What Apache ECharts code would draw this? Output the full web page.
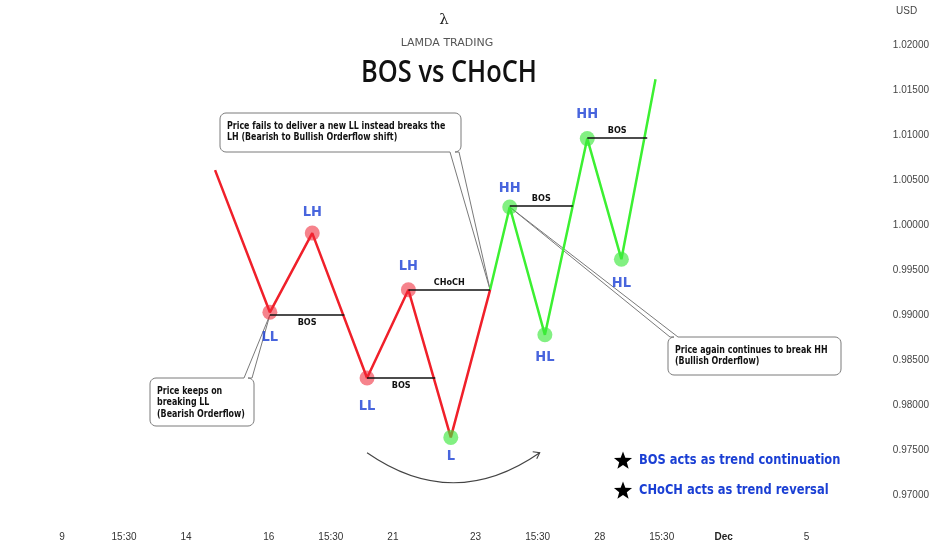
<!DOCTYPE html>
<html>
<head>
<meta charset="utf-8">
<script src="https://cdn.jsdelivr.net/npm/echarts@6/dist/echarts.min.js"></script>
<style>
html,body{margin:0;padding:0;background:#fff;}
#chart{width:932px;height:550px;}
</style>
</head>
<body>
<div id="chart"></div>
<script>
// ---- data ----
const timeTickValues = [6, 12, 18, 26, 32, 38, 46, 52, 58, 64, 70, 78];
const timeTickLabels = ['9', '15:30', '14', '16', '15:30', '21', '23', '15:30', '28', '15:30', 'Dec', '5'];
const priceTicks = [0.97, 0.975, 0.98, 0.985, 0.99, 0.995, 1.0, 1.005, 1.01, 1.015, 1.02];

const bearX = [20.8, 26.1, 30.2, 35.5, 39.5, 43.6, 47.4];
const bearY = [1.0061, 0.9903, 0.9991, 0.9830, 0.9928, 0.9764, 0.9928];
const bullX = [47.4, 49.3, 52.7, 56.8, 60.1, 63.4];
const bullY = [0.9928, 1.0020, 0.9878, 1.0096, 0.9962, 1.0162];

const pivotNames = ['LL', 'LH', 'LL', 'LH', 'L', 'HH', 'HL', 'HH', 'HL'];
const pivotX = [26.1, 30.2, 35.5, 39.5, 43.6, 49.3, 52.7, 56.8, 60.1];
const pivotY = [0.9903, 0.9991, 0.9830, 0.9928, 0.9764, 1.0020, 0.9878, 1.0096, 0.9962];
const pivotTrend = ['bear', 'bear', 'bear', 'bear', 'bull', 'bull', 'bull', 'bull', 'bull'];

const breakNames = ['BOS', 'BOS', 'CHoCH', 'BOS', 'BOS'];
const breakStartX = [26.1, 35.5, 39.5, 49.3, 56.8];
const breakEndX = [33.3, 42.1, 47.4, 55.4, 62.6];
const breakY = [0.9900, 0.9830, 0.9928, 1.0021, 1.0097];

const noteTexts = [
  'Price fails to deliver a new LL instead breaks the\nLH (Bearish to Bullish Orderflow shift)',
  'Price keeps on\nbreaking LL\n(Bearish Orderflow)',
  'Price again continues to break HH\n(Bullish Orderflow)'
];
const noteTipX = [47.4, 26.1, 49.3];
const noteTipY = [0.9928, 0.9900, 1.0020];

const legendTexts = ['BOS acts as trend continuation', 'CHoCH acts as trend reversal'];
const arcX = [35.5, 52.2];
const arcY = [0.9747, 0.9747];

// ---- layout / style ----
const BLUE = '#1a3fd4';
const RED = '#f0202a';
const GREEN = '#3cf032';
const labelFont = '"DejaVu Sans Condensed", "DejaVu Sans", sans-serif';
const pivotLabelLayout = [
  ['bottom', 10], ['top', 6], ['bottom', 13], ['top', 9], ['bottom', 4],
  ['top', 4], ['bottom', 7], ['top', 9], ['bottom', 9]
];
const breakLabelPos = ['insideMiddleBottom', 'insideMiddleBottom', 'insideMiddleTop', 'insideMiddleTop', 'insideMiddleTop'];
// callout boxes: [x, y, w, h, edge, a1, a2]
const noteBoxes = [
  [220, 113, 241, 39, 'bottom', 450, 459],
  [150, 378, 104, 48, 'top', 244, 252],
  [668, 337, 173, 38, 'top', 670, 678]
];

const chart = echarts.init(document.getElementById('chart'), null, {renderer: 'canvas'});

const pivotData = pivotNames.map((n, i) => ({
  value: [pivotX[i], pivotY[i]],
  name: n,
  itemStyle: {color: pivotTrend[i] === 'bear' ? 'rgba(240,40,55,0.72)' : 'rgba(60,232,60,0.8)'},
  label: {position: pivotLabelLayout[i][0], distance: pivotLabelLayout[i][1]}
}));

const markLineData = breakNames.map((n, i) => ([
  {coord: [breakStartX[i], breakY[i]], name: n, label: {position: breakLabelPos[i]}},
  {coord: [breakEndX[i], breakY[i]]}
]));

const option = {
  animation: false,
  backgroundColor: '#ffffff',
  grid: {left: 0, right: 50, top: 0, bottom: 25, containLabel: false},
  xAxis: {
    type: 'value', min: 0, max: 85,
    axisLine: {show: false}, axisTick: {show: false}, splitLine: {show: false},
    axisLabel: {
      customValues: timeTickValues,
      margin: 7,
      fontSize: 10, color: '#333', fontFamily: '"Liberation Sans", Arial, sans-serif',
      formatter: function (v) {
        const i = timeTickValues.indexOf(Math.round(v));
        const t = i >= 0 ? timeTickLabels[i] : '';
        return t === 'Dec' ? '{b|Dec}' : t;
      },
      rich: {b: {fontWeight: 'bold', fontSize: 10, color: '#222', fontFamily: '"Liberation Sans", Arial, sans-serif'}}
    }
  },
  yAxis: {
    type: 'value', position: 'right', min: 0.96667, max: 1.025, scale: true,
    axisLine: {show: false}, axisTick: {show: false}, splitLine: {show: false},
    axisLabel: {
      customValues: priceTicks,
      margin: 14,
      fontSize: 10, color: '#444', fontFamily: '"Liberation Sans", Arial, sans-serif',
      formatter: v => v.toFixed(5)
    }
  },
  series: [
    {
      type: 'line', name: 'bear', z: 3,
      data: bearX.map((x, i) => [x, bearY[i]]),
      symbol: 'none', lineStyle: {color: RED, width: 2.5},
      markLine: {
        silent: true, symbol: ['none', 'none'], animation: false,
        lineStyle: {color: '#111', width: 1.6, type: 'solid'},
        label: {
          show: true, formatter: '{b}', distance: 3,
          fontSize: 9, fontWeight: 'bold', color: '#111', fontFamily: labelFont
        },
        data: markLineData
      }
    },
    {
      type: 'line', name: 'bull', z: 3,
      data: bullX.map((x, i) => [x, bullY[i]]),
      symbol: 'none', lineStyle: {color: GREEN, width: 2.5}
    },
    {
      type: 'scatter', name: 'pivots', z: 4,
      symbolSize: 15,
      data: pivotData,
      label: {
        show: true, formatter: '{b}',
        fontSize: 14.5, fontWeight: 'bold', color: BLUE, fontFamily: labelFont
      }
    }
  ]
};

chart.setOption(option);

function arcPts(cx, cy, r, a0, a1) {
  const pts = [];
  for (let k = 0; k <= 5; k++) {
    const a = a0 + (a1 - a0) * k / 5;
    pts.push([cx + r * Math.cos(a), cy + r * Math.sin(a)]);
  }
  return pts;
}

function calloutPoints(b, tip) {
  const [x, y, w, h, edge, a1, a2] = b;
  const r = 6, P = Math.PI;
  let pts = [];
  pts = pts.concat(arcPts(x + r, y + r, r, P, 1.5 * P));
  if (edge === 'top') pts.push([a1, y], [tip[0], tip[1]], [a2, y]);
  pts = pts.concat(arcPts(x + w - r, y + r, r, 1.5 * P, 2 * P));
  pts = pts.concat(arcPts(x + w - r, y + h - r, r, 0, 0.5 * P));
  if (edge === 'bottom') pts.push([a2, y + h], [tip[0], tip[1]], [a1, y + h]);
  pts = pts.concat(arcPts(x + r, y + h - r, r, 0.5 * P, P));
  return pts;
}

function starPoints(cx, cy, R, r) {
  const pts = [];
  for (let k = 0; k < 10; k++) {
    const ang = -Math.PI / 2 + k * Math.PI / 5;
    const rad = k % 2 === 0 ? R : r;
    pts.push([cx + rad * Math.cos(ang), cy + rad * Math.sin(ang)]);
  }
  return pts;
}

const graphics = [];
// header
graphics.push({type: 'text', x: 444, y: 20, style: {text: 'λ', fontSize: 15, fill: '#222', align: 'center', verticalAlign: 'middle', fontFamily: '"DejaVu Serif", serif'}});
graphics.push({type: 'text', x: 447, y: 43, style: {text: 'LAMDA TRADING', fontSize: 11, fill: '#555', align: 'center', verticalAlign: 'middle', fontFamily: '"DejaVu Sans", sans-serif', letterSpacing: 3.6}});
graphics.push({type: 'text', x: 449, y: 73, scaleX: 0.82, style: {text: 'BOS vs CHoCH', fontSize: 31, fontWeight: 600, fill: '#111', align: 'center', verticalAlign: 'middle', fontFamily: '"Open Sans", sans-serif'}});
graphics.push({type: 'text', x: 896, y: 11, style: {text: 'USD', fontSize: 10, fill: '#444', verticalAlign: 'middle', fontFamily: '"Liberation Sans", Arial, sans-serif'}});

// callouts
noteTexts.forEach((t, i) => {
  const tip = chart.convertToPixel({gridIndex: 0}, [noteTipX[i], noteTipY[i]]);
  const b = noteBoxes[i];
  graphics.push({
    type: 'polygon', z: 1,
    shape: {points: calloutPoints(b, tip)},
    style: {fill: '#fff', stroke: '#7a7a7a', lineWidth: 1}
  });
  graphics.push({
    type: 'text', z: 5, x: b[0] + 7, y: b[1] + 7, scaleX: 0.8,
    style: {text: t, fontSize: 11, fontWeight: 'bold', fill: '#111', lineHeight: 11.5, fontFamily: labelFont}
  });
});

// arc arrow
const p0 = chart.convertToPixel({gridIndex: 0}, [arcX[0], arcY[0]]);
const p1 = chart.convertToPixel({gridIndex: 0}, [arcX[1], arcY[1]]);
const cpx = (p0[0] + p1[0]) / 2, cpy = p0[1] + 60;
graphics.push({type: 'bezierCurve', shape: {x1: p0[0], y1: p0[1], x2: p1[0], y2: p1[1], cpx1: cpx, cpy1: cpy}, style: {stroke: '#444', lineWidth: 1.1, fill: null}});
graphics.push({type: 'polyline', shape: {points: [[p1[0] - 7, p1[1] - 1], [p1[0], p1[1]], [p1[0] - 3, p1[1] + 6]]}, style: {stroke: '#444', lineWidth: 1.1, fill: null}});

// legend notes with stars
legendTexts.forEach((t, i) => {
  const cy = 461 + i * 30;
  graphics.push({type: 'polygon', shape: {points: starPoints(623, cy, 9.5, 4)}, style: {fill: '#000'}});
  graphics.push({type: 'text', x: 639, y: cy - 1, scaleX: 0.88, style: {text: t, fontSize: 14.5, fontWeight: 'bold', fill: BLUE, verticalAlign: 'middle', fontFamily: labelFont}});
});

chart.setOption({graphic: graphics});
</script>
</body>
</html>
